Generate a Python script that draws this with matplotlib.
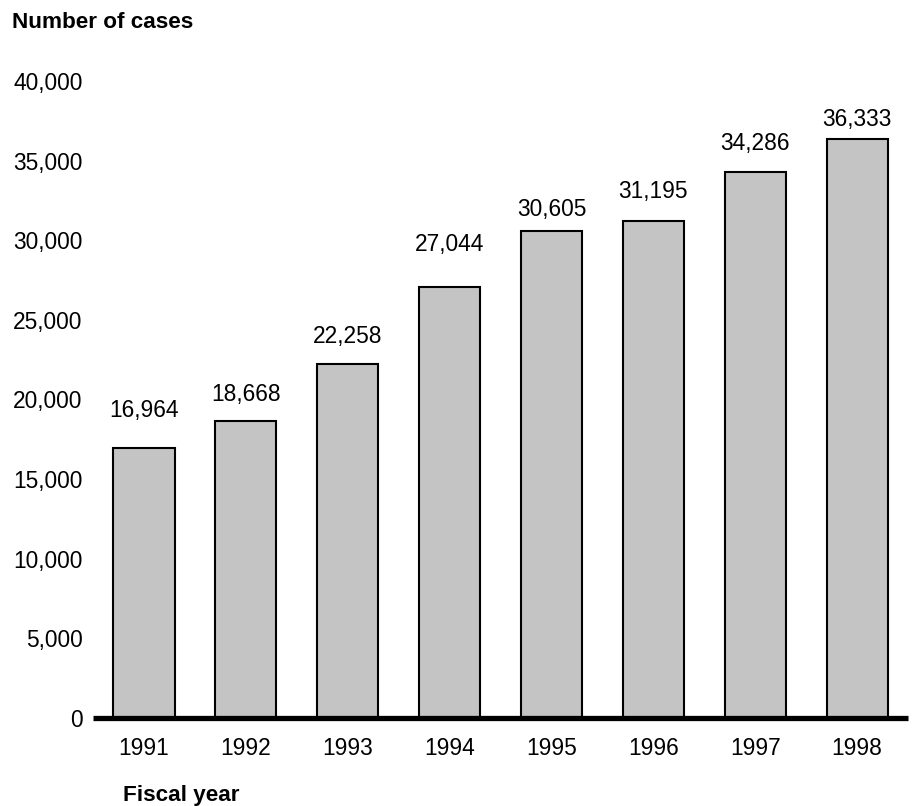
import matplotlib.pyplot as plt

plt.rcParams['font.family'] = ['Liberation Sans', 'DejaVu Sans']

years = ['1991', '1992', '1993', '1994', '1995', '1996', '1997', '1998']
cases = [16964, 18668, 22258, 27044, 30605, 31195, 34286, 36333]
yticks = [0, 5000, 10000, 15000, 20000, 25000, 30000, 35000, 40000]

# label gaps above each bar, in pixels (as laid out in the original)
gaps = [31, 20, 21, 36, 15, 23, 22, 13]

fig = plt.figure(figsize=(9.16, 8.06), dpi=100)
ax = fig.add_axes([93 / 916, 88 / 806, 815 / 916, 637 / 806])

x = list(range(len(years)))
ax.bar(x, cases, width=0.6, color='#c4c4c4', edgecolor='black', linewidth=1.5, zorder=2)

for xi, v, g in zip(x, cases, gaps):
    ax.annotate(f'{v:,}', (xi, v), xytext=(0, g * 0.72), textcoords='offset points',
                ha='center', va='baseline', fontsize=16.4)

ax.axhline(0, color='black', linewidth=3.8, zorder=3, clip_on=False,
           solid_capstyle='butt')

ax.set_xlim(-0.5, 7.5)
ax.set_ylim(0, 40000)
ax.set_xticks(x)
ax.set_xticklabels(years)
ax.set_yticks(yticks)
ax.set_yticklabels([f'{t:,}' for t in yticks])
ax.tick_params(axis='both', length=0, labelsize=16.4)
ax.tick_params(axis='y', pad=7.5)
ax.tick_params(axis='x', pad=14)
for s in ax.spines.values():
    s.set_visible(False)

fig.text(12 / 916, 1 - 22 / 806, 'Number of cases', fontsize=16.2, fontweight='bold',
         ha='left', va='center')
fig.text(123 / 916, 11 / 806, 'Fiscal year', fontsize=16.2, fontweight='bold',
         ha='left', va='center')

fig.savefig('out.png', dpi=100)
